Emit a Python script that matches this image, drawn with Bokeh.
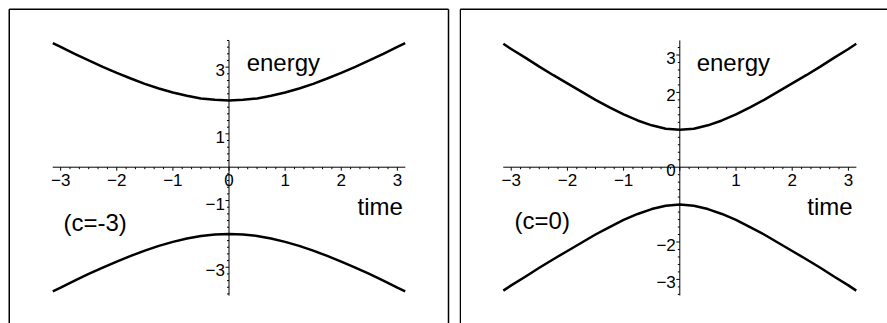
from bokeh.plotting import figure
from bokeh.layouts import row
from bokeh.models import Range1d
from bokeh.core.properties import value
from bokeh.embed import file_html
from bokeh.resources import INLINE

# ---------------- data ----------------
time_pts = [-3.14, -3.0, -2.75, -2.5, -2.25, -2.0, -1.75, -1.5, -1.25, -1.0, -0.75, -0.5, -0.25,
            0.0, 0.25, 0.5, 0.75, 1.0, 1.25, 1.5, 1.75, 2.0, 2.25, 2.5, 2.75, 3.0, 3.14]

energy_upper_c_m3 = [3.72, 3.61, 3.40, 3.20, 3.01, 2.83, 2.66, 2.50, 2.36, 2.24, 2.14, 2.06, 2.02,
                     2.00, 2.02, 2.06, 2.14, 2.24, 2.36, 2.50, 2.66, 2.83, 3.01, 3.20, 3.40, 3.61, 3.72]
energy_lower_c_m3 = [-3.72, -3.61, -3.40, -3.20, -3.01, -2.83, -2.66, -2.50, -2.36, -2.24, -2.14, -2.06, -2.02,
                     -2.00, -2.02, -2.06, -2.14, -2.24, -2.36, -2.50, -2.66, -2.83, -3.01, -3.20, -3.40, -3.61, -3.72]

energy_upper_c_0 = [3.30, 3.16, 2.93, 2.69, 2.46, 2.24, 2.02, 1.80, 1.60, 1.41, 1.25, 1.12, 1.03,
                    1.00, 1.03, 1.12, 1.25, 1.41, 1.60, 1.80, 2.02, 2.24, 2.46, 2.69, 2.93, 3.16, 3.30]
energy_lower_c_0 = [-3.30, -3.16, -2.93, -2.69, -2.46, -2.24, -2.02, -1.80, -1.60, -1.41, -1.25, -1.12, -1.03,
                    -1.00, -1.03, -1.12, -1.25, -1.41, -1.60, -1.80, -2.02, -2.24, -2.46, -2.69, -2.93, -3.16, -3.30]

# tick values and labels
x_ticks_left = [-3, -2, -1, 0, 1, 2, 3]
x_labels_left = ["\u22123", "\u22122", "\u22121", "0", "1", "2", "3"]
y_ticks_left = [3, 1, -1, -3]
y_labels_left = ["3", "1", "\u22121", "\u22123"]

x_ticks_right = [-3, -2, -1, 1, 2, 3]
x_labels_right = ["\u22123", "\u22122", "\u22121", "1", "2", "3"]
y_ticks_right = [3, 2, 0, -2, -3]
y_labels_right = ["3", "2", "0", "\u22122", "\u22123"]

panel_names = ["(c=-3)", "(c=0)"]
x_axis_title = "time"
y_axis_title = "energy"

FONT = "Liberation Sans"

# ---------------- layout / styling ----------------
panels = [
    dict(W=459, H=323, ox=228.5, oy=166.7, px=56.12, py=33.35,
         xspan=(-3.1416, 3.1416), yspan=(-3.85, 3.80),
         left_border=8.75, top_border=8.75, right_border=448.0,
         upper=energy_upper_c_m3, lower=energy_lower_c_m3,
         xt=x_ticks_left, xl=x_labels_left, yt=y_ticks_left, yl=y_labels_left,
         name=panel_names[0], name_pos=(-2.95, -1.65),
         ytitle_pos=(0.315, 3.13), xtitle_pos=(2.29, -1.19)),
    dict(W=428, H=323, ox=220.3, oy=166.7, px=56.2, py=37.4,
         xspan=(-3.1416, 3.1416), yspan=(-3.43, 3.39),
         left_border=0.75, top_border=8.75, right_border=None,
         upper=energy_upper_c_0, lower=energy_lower_c_0,
         xt=x_ticks_right, xl=x_labels_right, yt=y_ticks_right, yl=y_labels_right,
         name=panel_names[1], name_pos=(-2.94, -1.43),
         ytitle_pos=(0.30, 2.79), xtitle_pos=(2.27, -1.06)),
]


def make_panel(c):
    W, H, ox, oy, px, py = c["W"], c["H"], c["ox"], c["oy"], c["px"], c["py"]
    x0, x1 = -ox / px, (W - ox) / px
    y0, y1 = -(H - oy) / py, oy / py

    def cx(v):
        return x0 + v / px

    def cy(v):
        return y1 - v / py

    p = figure(width=W, height=H, output_backend="svg", toolbar_location=None,
               x_range=Range1d(x0, x1), y_range=Range1d(y0, y1),
               x_axis_location=None, y_axis_location=None, min_border=0)
    p.outline_line_color = None
    p.grid.visible = False
    p.background_fill_color = "white"
    p.border_fill_color = "white"

    # panel border (left, top, and right if visible)
    lb, tb = cx(c["left_border"]), cy(c["top_border"])
    top_end = cx(c["right_border"]) if c["right_border"] else x1
    p.segment(x0=[lb], y0=[tb], x1=[lb], y1=[y0], line_color="black", line_width=1.5)
    p.segment(x0=[lb], y0=[tb], x1=[top_end], y1=[tb], line_color="black", line_width=1.5)
    if c["right_border"]:
        rb = cx(c["right_border"])
        p.segment(x0=[rb], y0=[tb], x1=[rb], y1=[y0], line_color="black", line_width=1.5)

    # axes lines
    xa, xb = c["xspan"]
    ya, yb = c["yspan"]
    p.segment(x0=[xa], y0=[0], x1=[xb], y1=[0], line_color="black", line_width=1)
    p.segment(x0=[0], y0=[ya], x1=[0], y1=[yb], line_color="black", line_width=1)

    # x ticks (below axis)
    xmaj = [k for k in range(-3, 4)]
    xmin = [k / 6 for k in range(-18, 19) if k % 6 != 0]
    p.segment(x0=xmaj, y0=[0] * len(xmaj), x1=xmaj, y1=[-3.5 / py] * len(xmaj), line_color="black", line_width=1)
    p.segment(x0=xmin, y0=[0] * len(xmin), x1=xmin, y1=[-2.0 / py] * len(xmin), line_color="black", line_width=1)

    # y ticks (left of axis)
    ymaj = [k for k in range(-3, 4) if ya <= k <= yb and k != 0]
    ymin = [k / 5 for k in range(-20, 21) if k % 5 != 0 and ya <= k / 5 <= yb]
    p.segment(x0=[0] * len(ymaj), y0=ymaj, x1=[-3.5 / px] * len(ymaj), y1=ymaj, line_color="black", line_width=1)
    p.segment(x0=[0] * len(ymin), y0=ymin, x1=[-2.0 / px] * len(ymin), y1=ymin, line_color="black", line_width=1)

    # tick labels
    p.text(x=c["xt"], y=[0] * len(c["xt"]), text=c["xl"], text_font=value(FONT),
           text_font_size=value("17px"), text_align="center", text_baseline="middle",
           x_offset=0, y_offset=13, text_color="black")
    p.text(x=[0] * len(c["yt"]), y=c["yt"], text=c["yl"], text_font=value(FONT),
           text_font_size=value("17px"), text_align="right", text_baseline="middle",
           x_offset=-4, y_offset=3, text_color="black")

    # curves
    p.line(time_pts, c["upper"], line_color="black", line_width=2.5)
    p.line(time_pts, c["lower"], line_color="black", line_width=2.5)

    # titles and panel name
    p.text(x=[c["ytitle_pos"][0]], y=[c["ytitle_pos"][1]], text=[y_axis_title], text_font=value(FONT),
           text_font_size=value("24px"), text_align="left", text_baseline="alphabetic", text_color="black")
    p.text(x=[c["xtitle_pos"][0]], y=[c["xtitle_pos"][1]], text=[x_axis_title], text_font=value(FONT),
           text_font_size=value("24px"), text_align="left", text_baseline="alphabetic", text_color="black")
    p.text(x=[c["name_pos"][0]], y=[c["name_pos"][1]], text=[c["name"]], text_font=value(FONT),
           text_font_size=value("24px"), text_align="left", text_baseline="alphabetic", text_color="black")
    return p


p = row(make_panel(panels[0]), make_panel(panels[1]))
open("out.html", "w").write(file_html(p, INLINE))
